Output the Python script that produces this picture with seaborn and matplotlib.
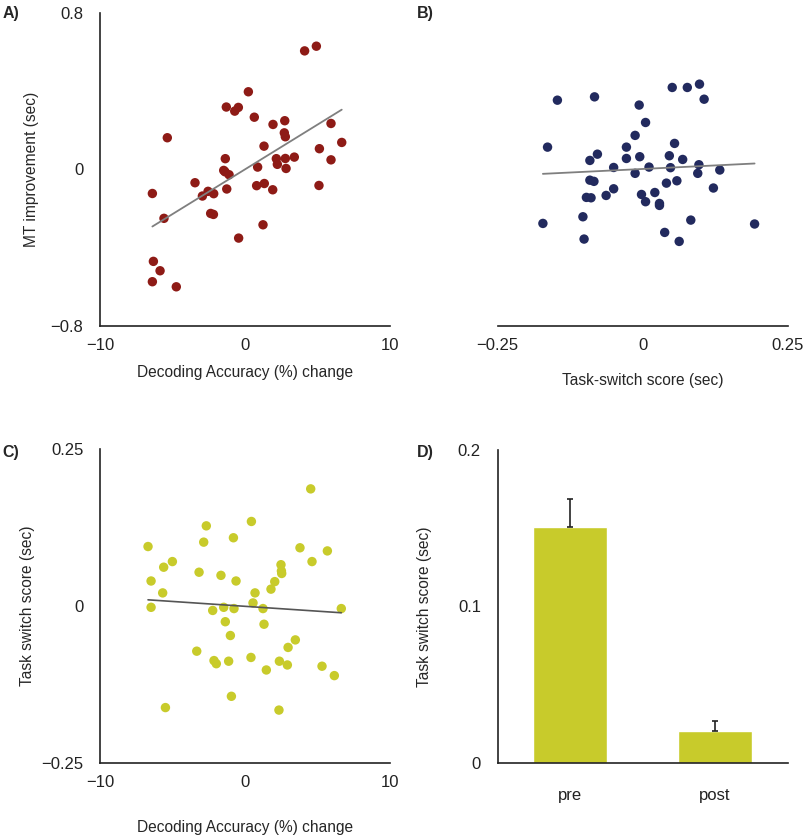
import numpy as np
import pandas as pd
import matplotlib
matplotlib.use("Agg")
import matplotlib.pyplot as plt
import seaborn as sns

# Panel A: decoding accuracy change vs MT improvement
a_x = [4.11, 4.92, 0.23, -1.29, -0.71, -0.46, 0.64, 1.93, 2.74, 5.93, 2.71, 2.78,
       -5.36, 6.67, 1.31, 5.13, -1.36, 2.16, 3.40, 2.78, 5.93, 2.23, 0.87, 2.83,
       -1.47, -1.38, -1.10, -3.45, 0.80, 1.33, 5.10, -6.39, -2.94, -2.55, -2.16,
       -1.26, 1.91, -2.37, -2.18, -5.59, 1.24, -0.44, -6.32, -5.86, -6.39, -4.74]
a_y = [0.606, 0.630, 0.397, 0.319, 0.298, 0.317, 0.267, 0.230, 0.249, 0.235, 0.187,
       0.167, 0.162, 0.138, 0.119, 0.106, 0.055, 0.055, 0.063, 0.056, 0.049, 0.026,
       0.012, 0.005, -0.005, -0.012, -0.027, -0.068, -0.083, -0.072, -0.082, -0.123,
       -0.136, -0.112, -0.124, -0.100, -0.104, -0.225, -0.230, -0.250, -0.283,
       -0.351, -0.470, -0.518, -0.574, -0.600]

# Panel B: task-switch score vs MT improvement
b_x = [-0.147, -0.083, -0.006, 0.005, 0.051, 0.077, 0.098, 0.106, -0.013, -0.164,
       -0.028, 0.055, -0.078, -0.091, -0.028, -0.005, 0.046, 0.069, -0.050, 0.011,
       0.048, 0.097, 0.133, -0.013, 0.095, -0.091, -0.084, 0.059, 0.041, -0.050,
       0.122, 0.021, -0.063, -0.002, -0.097, -0.089, 0.005, 0.029, 0.029, -0.103,
       0.083, -0.172, 0.193, -0.101, 0.038, 0.063]
b_y = [0.354, 0.371, 0.329, 0.240, 0.419, 0.419, 0.436, 0.359, 0.174, 0.114, 0.114,
       0.133, 0.078, 0.046, 0.056, 0.065, 0.070, 0.051, 0.010, 0.012, 0.009, 0.024,
       -0.003, -0.020, -0.020, -0.055, -0.061, -0.058, -0.070, -0.099, -0.095,
       -0.118, -0.133, -0.128, -0.143, -0.145, -0.165, -0.174, -0.184, -0.242,
       -0.259, -0.276, -0.279, -0.356, -0.322, -0.368]

# Panel C: decoding accuracy change vs task switch score
c_x = [4.53, 0.44, -2.67, -0.80, -2.85, -6.69, 3.79, 5.68, -5.01, 4.62, -5.61, 2.48,
       2.51, 2.53, -3.17, -1.66, -6.48, -0.62, 2.05, 1.79, -5.68, 0.69, 0.55, -6.48,
       -1.47, -0.76, 1.24, 6.64, -2.23, -1.36, 1.31, -1.01, 3.47, 2.97, -3.33, 0.41,
       -2.14, -1.98, -1.13, 2.37, 2.92, 1.47, 5.31, 6.16, -0.94, -5.49, 2.34]
c_y = [0.187, 0.135, 0.128, 0.109, 0.102, 0.095, 0.093, 0.088, 0.071, 0.071, 0.062,
       0.066, 0.056, 0.052, 0.054, 0.049, 0.040, 0.040, 0.039, 0.027, 0.021, 0.021,
       0.005, -0.002, -0.002, -0.004, -0.004, -0.004, -0.007, -0.025, -0.029,
       -0.047, -0.054, -0.066, -0.072, -0.082, -0.087, -0.092, -0.088, -0.088,
       -0.094, -0.102, -0.096, -0.111, -0.144, -0.162, -0.166]

# Panel D: task switch score pre/post
d_labels = ["pre", "post"]
d_means = [0.151, 0.020]
d_errs = [0.018, 0.0067]

red = "#8e1b16"
navy = "#222a5e"
olive = "#c8cb2b"

sns.set_style("white")
plt.rcParams["font.family"] = ["Liberation Sans", "DejaVu Sans"]

TICK = 12
LAB = 11.2

fig = plt.figure(figsize=(8.1, 8.4), dpi=100)
axA = fig.add_axes([0.1235, 0.612, 0.358, 0.3726])
axB = fig.add_axes([0.6144, 0.612, 0.358, 0.3726])
axC = fig.add_axes([0.1235, 0.092, 0.358, 0.373])
axD = fig.add_axes([0.6144, 0.092, 0.358, 0.372])

scat = dict(s=46, edgecolor="none", alpha=1)
line = dict(color="#7f7f7f", lw=1.3)


def style(ax, left=True, xpad=9):
    sns.despine(ax=ax, left=not left)
    for sp in ["left", "bottom"]:
        ax.spines[sp].set_color("#222222")
        ax.spines[sp].set_linewidth(1.2)
    ax.tick_params(axis="both", length=0, labelsize=TICK, colors="#222222")
    ax.tick_params(axis="x", pad=xpad)
    ax.tick_params(axis="y", pad=12)


# A
sns.regplot(x=a_x, y=a_y, ax=axA, ci=None, truncate=True,
            scatter_kws=dict(color=red, **scat), line_kws=line)
axA.set_xlim(-10, 10)
axA.set_ylim(-0.8, 0.8)
axA.set_xticks([-10, 0, 10])
axA.set_yticks([-0.8, 0, 0.8])
axA.set_yticklabels(["\u22120.8", "0", "0.8"])
axA.set_xlabel("Decoding Accuracy (%) change", fontsize=LAB)
axA.set_ylabel("MT improvement (sec)", fontsize=LAB)
axA.xaxis.set_label_coords(0.5, -0.125)
axA.yaxis.set_label_coords(-0.21, 0.5)
style(axA)

# B
sns.regplot(x=b_x, y=b_y, ax=axB, ci=None, truncate=True,
            scatter_kws=dict(color=navy, **scat), line_kws=line)
axB.set_xlim(-0.25, 0.25)
axB.set_ylim(-0.8, 0.8)
axB.set_xticks([-0.25, 0, 0.25])
axB.set_xticklabels(["\u22120.25", "0", "0.25"])
axB.set_yticks([])
axB.set_xlabel("Task-switch score (sec)", fontsize=LAB)
axB.xaxis.set_label_coords(0.5, -0.150)
style(axB, left=False)

# C
sns.regplot(x=c_x, y=c_y, ax=axC, ci=None, truncate=True,
            scatter_kws=dict(color=olive, **scat), line_kws=dict(color="#555555", lw=1.2))
axC.set_xlim(-10, 10)
axC.set_ylim(-0.25, 0.25)
axC.set_xticks([-10, 0, 10])
axC.set_yticks([-0.25, 0, 0.25])
axC.set_yticklabels(["\u22120.25", "0", "0.25"])
axC.set_xlabel("Decoding Accuracy (%) change", fontsize=LAB)
axC.set_ylabel("Task switch score (sec)", fontsize=LAB)
axC.xaxis.set_label_coords(0.5, -0.183)
axC.yaxis.set_label_coords(-0.224, 0.5)
style(axC)

# D
dfD = pd.DataFrame({"phase": d_labels, "score": d_means})
sns.barplot(data=dfD, x="phase", y="score", ax=axD, color=olive, width=0.51,
            saturation=1, errorbar=None)
axD.errorbar(x=range(len(d_labels)), y=d_means, yerr=[[0] * len(d_errs), d_errs],
             fmt="none", ecolor="#222222", elinewidth=1.2, capsize=2, capthick=1.2)
axD.set_xlim(-0.5, 1.5)
axD.set_ylim(0, 0.2)
axD.set_yticks([0, 0.1, 0.2])
axD.set_yticklabels(["0", "0.1", "0.2"])
axD.set_xlabel("")
axD.set_ylabel("Task switch score (sec)", fontsize=LAB)
axD.yaxis.set_label_coords(-0.227, 0.5)
style(axD, xpad=18)

for lab, (x, y) in zip(["A)", "B)", "C)", "D)"],
                       [(0.003, 0.993), (0.515, 0.993), (0.003, 0.470), (0.515, 0.470)]):
    fig.text(x, y, lab, fontsize=11.5, fontweight="bold", va="top", ha="left")

fig.savefig("out.png", dpi=100)
